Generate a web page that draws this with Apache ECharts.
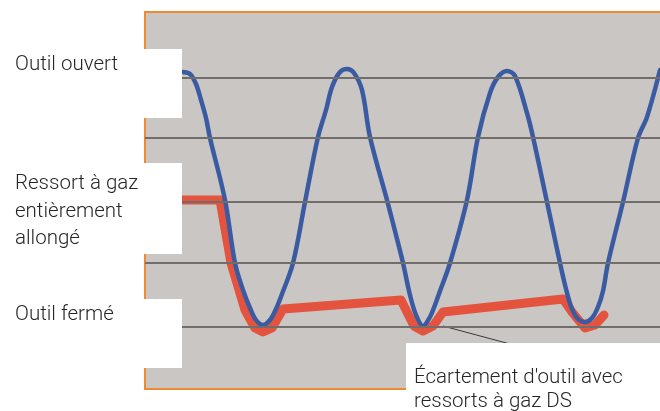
<!DOCTYPE html>
<html>
<head>
<meta charset="utf-8">
<script src="https://cdn.jsdelivr.net/npm/echarts@6/dist/echarts.min.js"></script>
<style>
  html, body { margin: 0; padding: 0; background: #ffffff; }
  #chart { width: 660px; height: 411px; }
</style>
</head>
<body>
<div id="chart"></div>
<script>
// Stroke position (x) against tool height (y), in the chart's own units.
const xRange = [0, 515];
const yRange = [0, 377];

// Reference levels drawn as horizontal rules across the plot.
const levels = [62, 126, 187, 251, 311];

// Press stroke: tool movement over three cycles.
const strokeX = [37, 45, 51, 56, 61, 65, 80, 90, 98, 105, 111, 118, 125, 131, 137, 148, 160, 173, 181, 187, 195, 202, 209, 217, 225, 242, 251, 258, 265, 271, 278, 285, 290, 295, 305, 322, 333, 345, 353, 362, 370, 382, 388, 402, 415, 421, 427, 433, 440, 447, 453, 458, 463, 478, 493, 502, 515];
const strokeY = [317, 315, 305, 289, 271, 251, 189, 126, 99, 81, 69, 64, 69, 80, 95, 126, 187, 252, 279, 302, 317, 320, 316, 299, 252, 189, 154, 126, 94, 74, 63, 72, 84, 98, 126, 189, 252, 296, 312, 318, 313, 276, 252, 187, 126, 100, 80, 70, 67, 71, 82, 98, 126, 187, 251, 272, 319];

// Gas spring travel.
const springX = [37, 75, 86, 100, 110, 118, 127, 138, 256, 262, 269, 278, 288, 298, 418, 427, 440, 450, 459];
const springY = [189, 189, 126, 79, 61, 57, 61, 80, 89, 77, 63, 58, 63, 77, 90, 77, 61, 64, 74];

// Pointer from the annotation to the second closing.
const pointerX = [298, 365];
const pointerY = [63, 45];

// Text labels.
const leftLabels = [
  { lines: ['Outil ouvert'], top: 72 },
  { lines: ['Ressort à gaz', 'entièrement', 'allongé'], top: 191 },
  { lines: ['Outil fermé'], top: 322 }
];
const noteLines = ["Écartement d'outil avec", 'ressorts à gaz DS'];

const zip = (xs, ys) => xs.map((x, i) => [x, ys[i]]);

const ORANGE = '#ee8a2f';
const FONT = '300 20.5px Roboto, "Liberation Sans", sans-serif';
const TEXT_COLOR = '#262626';

const chart = echarts.init(document.getElementById('chart'), null, { renderer: 'canvas' });

const graphics = [];
// White panels behind the labels (covering the plot edge).
[[0, 49, 182, 69], [0, 163, 182, 91], [0, 299, 182, 69], [406, 343, 254, 68]].forEach(r => {
  graphics.push({
    type: 'rect', z: 100, silent: true,
    shape: { x: r[0], y: r[1], width: r[2], height: r[3] },
    style: { fill: '#ffffff' }
  });
});
leftLabels.forEach(lbl => {
  lbl.lines.forEach((t, i) => {
    graphics.push({
      type: 'text', z: 101, silent: true,
      x: 15, y: lbl.top + i * 27.5 - 7,
      style: { text: t, font: FONT, fill: TEXT_COLOR, textAlign: 'left', textVerticalAlign: 'middle' }
    });
  });
});
noteLines.forEach((t, i) => {
  graphics.push({
    type: 'text', z: 101, silent: true,
    x: 414, y: 385 + i * 24 - 7,
    style: { text: t, font: FONT, fill: TEXT_COLOR, textAlign: 'left', textVerticalAlign: 'middle' }
  });
});

const hiddenAxis = {
  axisTick: { show: false },
  axisLabel: { show: false },
  splitLine: { show: false }
};

chart.setOption({
  animation: false,
  backgroundColor: '#ffffff',
  grid: {
    left: 145, top: 12, right: 0, bottom: 22,
    show: true, backgroundColor: '#c9c6c3', borderWidth: 0
  },
  xAxis: [
    Object.assign({ type: 'value', min: xRange[0], max: xRange[1], position: 'bottom',
      axisLine: { show: true, lineStyle: { color: ORANGE, width: 2 } } }, hiddenAxis),
    Object.assign({ type: 'value', min: xRange[0], max: xRange[1], position: 'top',
      axisLine: { show: true, lineStyle: { color: ORANGE, width: 2 } } }, hiddenAxis)
  ],
  yAxis: Object.assign({ type: 'value', min: yRange[0], max: yRange[1],
    axisLine: { show: true, lineStyle: { color: ORANGE, width: 2 } } }, hiddenAxis),
  graphic: graphics,
  series: [
    {
      type: 'line', data: [], z: 1, silent: true,
      markLine: {
        silent: true, symbol: 'none', animation: false,
        label: { show: false },
        lineStyle: { color: '#706d6a', width: 2, type: 'solid' },
        data: levels.map(v => ({ yAxis: v }))
      }
    },
    {
      type: 'line', z: 2, data: zip(pointerX, pointerY),
      symbol: 'none', silent: true,
      lineStyle: { color: '#3a3a3a', width: 1 }
    },
    {
      type: 'line', z: 3, data: zip(springX, springY),
      symbol: 'none', silent: true,
      lineStyle: { color: '#e3533e', width: 9, join: 'round', cap: 'round' }
    },
    {
      type: 'line', z: 4, data: zip(strokeX, strokeY),
      symbol: 'none', silent: true, smooth: 0.35,
      lineStyle: { color: '#3a5aa2', width: 4.5, join: 'round', cap: 'round' }
    }
  ]
});
</script>
</body>
</html>
